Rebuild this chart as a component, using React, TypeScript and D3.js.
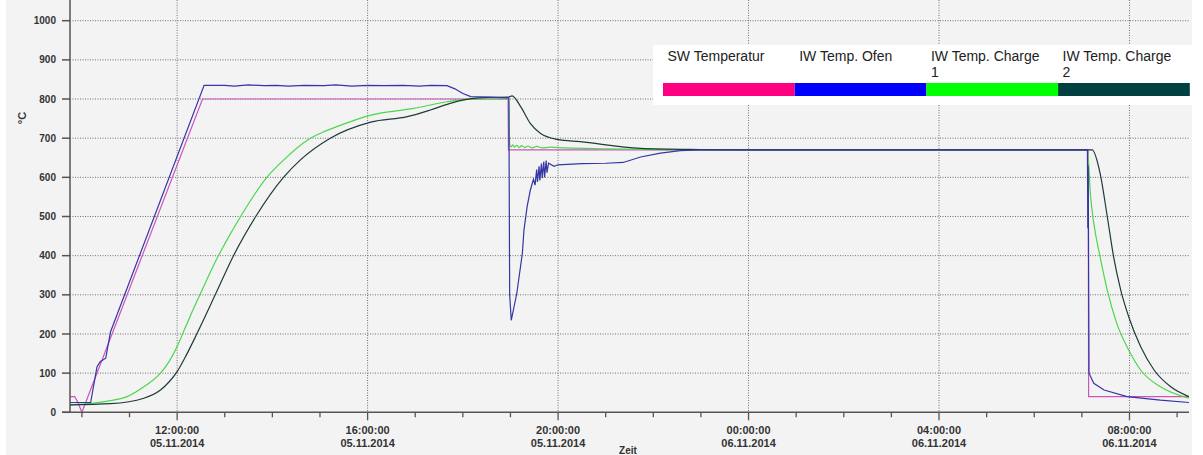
import React from "react";
import * as d3 from "d3";

type Pt = [string, number];

const seriesNames = ["SW Temperatur", "IW Temp. Ofen", "IW Temp. Charge 1", "IW Temp. Charge 2"];
const legendColors = ["#ff0080", "#0000ff", "#00ff00", "#004040"];
const lineColors = ["#cc55bb", "#3535a5", "#4cd64c", "#1f3a3a"];

const yTicks = [0, 100, 200, 300, 400, 500, 600, 700, 800, 900, 1000];

const swTemperatur: Pt[] = [
  ["05 09:45", 40], ["05 09:51", 40], ["05 09:55", 25], ["05 10:00", 0],
  ["05 12:32", 800], ["05 18:57", 800], ["05 18:57:30", 670],
  ["06 07:08", 670], ["06 07:08:30", 40], ["06 09:15", 40],
];

const iwOfen: Pt[] = [
  ["05 09:45", 25], ["05 10:11", 25], ["05 10:19", 116], ["05 10:23", 129], ["05 10:30", 138],
  ["05 10:36", 205], ["05 12:34", 835], ["05 13:00", 835], ["05 13:12", 833], ["05 13:30", 836],
  ["05 13:50", 834], ["05 14:05", 835], ["05 14:20", 833], ["05 14:40", 835], ["05 15:05", 834],
  ["05 15:20", 836], ["05 15:40", 833], ["05 16:00", 835], ["05 16:20", 834], ["05 16:45", 835],
  ["05 17:05", 833], ["05 17:20", 835], ["05 17:40", 834], ["05 17:50", 826], ["05 18:00", 814],
  ["05 18:10", 806], ["05 18:32", 805], ["05 18:58", 803], ["05 18:59", 300], ["05 19:01", 235],
  ["05 19:08", 304], ["05 19:15", 406], ["05 19:17", 465], ["05 19:21", 525], ["05 19:25", 567],
  ["05 19:29", 595], ["05 19:31", 580], ["05 19:33", 620], ["05 19:34", 588], ["05 19:36", 628],
  ["05 19:37", 592], ["05 19:39", 635], ["05 19:40", 598], ["05 19:42", 640], ["05 19:43", 600],
  ["05 19:45", 643], ["05 19:46", 612], ["05 19:48", 636], ["05 19:55", 628], ["05 20:00", 632],
  ["05 20:30", 635], ["05 21:00", 636], ["05 21:22", 638], ["05 21:44", 652], ["05 22:09", 662],
  ["05 22:34", 668], ["05 22:59", 670], ["06 07:07", 670], ["06 07:07:30", 470], ["06 07:08", 630],
  ["06 07:09", 100], ["06 07:15", 74], ["06 07:28", 57], ["06 07:57", 40], ["06 08:39", 31],
  ["06 09:15", 25],
];

const iwCharge1: Pt[] = [
  ["05 09:45", 19], ["05 10:36", 30], ["05 10:57", 40], ["05 11:18", 65], ["05 11:39", 100],
  ["05 11:50", 130], ["05 12:00", 168], ["05 12:10", 215], ["05 12:20", 262], ["05 12:30", 306],
  ["05 12:40", 350], ["05 12:50", 392], ["05 13:00", 430], ["05 13:20", 500], ["05 13:53", 600],
  ["05 14:14", 644], ["05 14:44", 695], ["05 15:00", 712], ["05 15:22", 730], ["05 16:04", 759],
  ["05 16:58", 776], ["05 17:40", 793], ["05 18:05", 799], ["05 18:30", 800], ["05 18:58", 800],
  ["05 18:59", 684], ["05 19:01", 678], ["05 19:03", 683], ["05 19:05", 677], ["05 19:08", 682],
  ["05 19:11", 676], ["05 19:14", 681], ["05 19:18", 676], ["05 19:22", 680], ["05 19:27", 675],
  ["05 19:33", 679], ["05 19:40", 675], ["05 19:50", 677], ["05 20:10", 675], ["05 21:00", 673],
  ["05 22:00", 671], ["05 23:00", 670], ["06 07:07", 670], ["06 07:11", 551], ["06 07:15", 483],
  ["06 07:23", 397], ["06 07:32", 312], ["06 07:44", 227], ["06 07:59", 159], ["06 08:14", 108],
  ["06 08:39", 65], ["06 09:15", 36],
];

const iwCharge2: Pt[] = [
  ["05 09:45", 19], ["05 10:36", 22], ["05 11:18", 36], ["05 11:39", 57], ["05 11:50", 78],
  ["05 12:00", 104], ["05 12:10", 140], ["05 12:25", 201], ["05 12:48", 300], ["05 13:11", 400],
  ["05 13:39", 500], ["05 14:14", 600], ["05 14:35", 644], ["05 15:13", 700], ["05 16:04", 741],
  ["05 16:50", 755], ["05 17:19", 772], ["05 17:44", 789], ["05 18:05", 799], ["05 18:32", 804],
  ["05 18:57", 805], ["05 19:02", 808], ["05 19:13", 780], ["05 19:25", 738], ["05 19:38", 712],
  ["05 19:59", 697], ["05 20:28", 691], ["05 21:44", 674], ["05 22:59", 671], ["06 00:00", 670],
  ["06 07:13", 670], ["06 07:23", 610], ["06 07:32", 500], ["06 07:40", 397], ["06 07:49", 312],
  ["06 07:59", 244], ["06 08:14", 168], ["06 08:31", 108], ["06 08:52", 65], ["06 09:15", 40],
];

const T = (s: string) => {
  const [d, hm] = s.split(" ");
  const [h, m, sec] = hm.split(":").map(Number);
  return new Date(2014, 10, Number(d), h, m, sec || 0);
};

const W = 1203;
const H = 455;
const x = d3.scaleTime().domain([T("05 09:45"), T("06 09:15")]).range([70, 1189]);
const y = d3.scaleLinear().domain([0, 1000]).range([412.3, 20.7]);
const plotTop = 0;
const plotBottom = y(0);
const FONT = "'Liberation Sans', Arial, sans-serif";

const wrap = (s: string) => {
  if (s.length <= 16) return [s];
  const i = s.lastIndexOf(" ");
  return [s.slice(0, i), s.slice(i + 1)];
};

export default function App() {
  const allSeries = [swTemperatur, iwOfen, iwCharge1, iwCharge2];
  const drawOrder = [0, 2, 3, 1];
  const lineGen = (curve: d3.CurveFactory) =>
    d3.line<Pt>().x((p) => x(T(p[0]))).y((p) => y(p[1])).curve(curve);
  const curves = [d3.curveLinear, d3.curveLinear, d3.curveMonotoneX, d3.curveMonotoneX];

  const hours = d3.timeHour.range(x.domain()[0], x.domain()[1]);
  const majors = hours.filter((h) => h.getHours() % 4 === 0);
  const fmtT = d3.timeFormat("%H:%M:%S");
  const fmtD = d3.timeFormat("%d.%m.%Y");

  const legX0 = 663;
  const legW = 131.7;

  return (
    <div style={{ position: "absolute", left: 0, top: 0 }}>
      <svg width={W} height={H} style={{ display: "block", fontFamily: FONT }}>
        <rect x={0} y={0} width={W} height={H} fill="#ffffff" />
        <rect x={6} y={0} width={1186} height={H} fill="#f3f3f3" />
        <defs>
          <clipPath id="plotclip">
            <rect x={70} y={plotTop} width={1189 - 70} height={plotBottom - plotTop + 1} />
          </clipPath>
        </defs>
        {yTicks.filter((v) => v > 0).map((v) => (
          <line key={"hg" + v} x1={70} x2={1189} y1={y(v)} y2={y(v)} stroke="#6e6e6e" strokeWidth={1} strokeDasharray="1,1.5" />
        ))}
        {majors.map((h) => (
          <line key={"vg" + +h} x1={x(h)} x2={x(h)} y1={plotTop} y2={plotBottom} stroke="#6e6e6e" strokeWidth={1} strokeDasharray="1,1.5" />
        ))}
        <g clipPath="url(#plotclip)">
          {drawOrder.map((i) => (
            <path key={"s" + i} d={lineGen(curves[i])(allSeries[i]) || ""} fill="none" stroke={lineColors[i]} strokeWidth={1.2} />
          ))}
        </g>
        <line x1={70} x2={70} y1={0} y2={plotBottom} stroke="#555" strokeWidth={1.5} />
        <line x1={62} x2={1189} y1={plotBottom} y2={plotBottom} stroke="#555" strokeWidth={1.5} />
        {yTicks.map((v) => (
          <g key={"yt" + v}>
            <line x1={62} x2={70} y1={y(v)} y2={y(v)} stroke="#555" strokeWidth={1.5} />
            <text x={56} y={y(v) + 3.6} textAnchor="end" fontSize={10} fontWeight="bold" fill="#333">{v}</text>
          </g>
        ))}
        {hours.map((h) => {
          const major = h.getHours() % 4 === 0;
          return (
            <line key={"xt" + +h} x1={x(h)} x2={x(h)} y1={plotBottom} y2={plotBottom + (major ? 8 : 5)} stroke="#555" strokeWidth={1.3} />
          );
        })}
        {majors.map((h) => (
          <g key={"xl" + +h} fontSize={11} fontWeight="bold" fill="#333" textAnchor="middle">
            <text x={x(h)} y={434}>{fmtT(h)}</text>
            <text x={x(h)} y={446.5}>{fmtD(h)}</text>
          </g>
        ))}
        <text x={628} y={454} textAnchor="middle" fontSize={10} fontWeight="bold" fill="#333">Zeit</text>
        <text transform="translate(26,118) rotate(-90)" textAnchor="middle" fontSize={11} fontWeight="bold" fill="#333">°C</text>
        <rect x={653} y={45} width={547} height={60} fill="#ffffff" />
        {seriesNames.map((name, i) => (
          <g key={"lg" + i}>
            {wrap(name).map((ln, j) => (
              <text key={j} x={legX0 + i * legW + 4.5} y={61 + j * 16} fontSize={14} fill="#222">{ln}</text>
            ))}
            <rect x={legX0 + i * legW} y={83} width={legW} height={13} fill={legendColors[i]} />
          </g>
        ))}
      </svg>
    </div>
  );
}
